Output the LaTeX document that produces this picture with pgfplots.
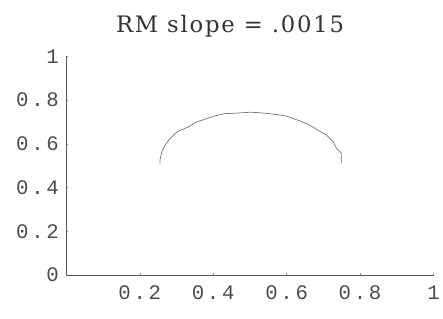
\documentclass[border=0pt]{standalone}
\usepackage{fontspec}
\usepackage{pgfplots}
\pgfplotsset{compat=1.18}
\newfontfamily\titlefont[LetterSpace=8]{DejaVu Serif}
\newfontfamily\tickfont[LetterSpace=13]{Liberation Mono}
\begin{document}
\begin{tikzpicture}
\begin{axis}[
  scale only axis, width=371bp, height=221bp,
  xmin=0, xmax=1, ymin=0, ymax=1,
  axis lines*=left,
  axis line style={black!65, line width=0.8pt},
  xtick={0.2,0.4,0.6,0.8,1}, ytick={0,0.2,0.4,0.6,0.8,1},
  xticklabels={0.2,0.4,0.6,0.8,1},
  yticklabels={0,0.2,0.4,0.6,0.8,1},
  tick style={black!40, line width=0.4pt},
  major tick length=2bp,
  tick label style={font=\fontsize{21}{24}\tickfont, text=black!70},
  /pgf/number format/assume math mode=true,
  xticklabel style={yshift=-7bp},
  yticklabel style={xshift=-4bp},
  clip=false,
]
\addplot[black!55, line width=0.7pt] coordinates {
(0.255,0.511)(0.255,0.526)(0.260,0.564)(0.269,0.594)(0.282,0.624)(0.296,0.647)(0.309,0.662)
(0.332,0.677)(0.354,0.700)(0.381,0.715)(0.403,0.727)(0.430,0.738)(0.466,0.741)
(0.502,0.745)(0.538,0.741)(0.574,0.734)(0.601,0.727)(0.619,0.715)(0.637,0.705)
(0.664,0.685)(0.686,0.662)(0.709,0.640)(0.727,0.609)(0.736,0.579)(0.749,0.557)(0.749,0.511)
};
\node[anchor=base, font=\fontsize{23}{26}\titlefont, text=black!80] at (rel axis cs:0.446,1) [yshift=24bp] {RM slope = .0015};
\path (rel axis cs:0,0) ++(-67bp,-44bp) rectangle ++(443bp,322bp);
\end{axis}
\end{tikzpicture}
\end{document}
